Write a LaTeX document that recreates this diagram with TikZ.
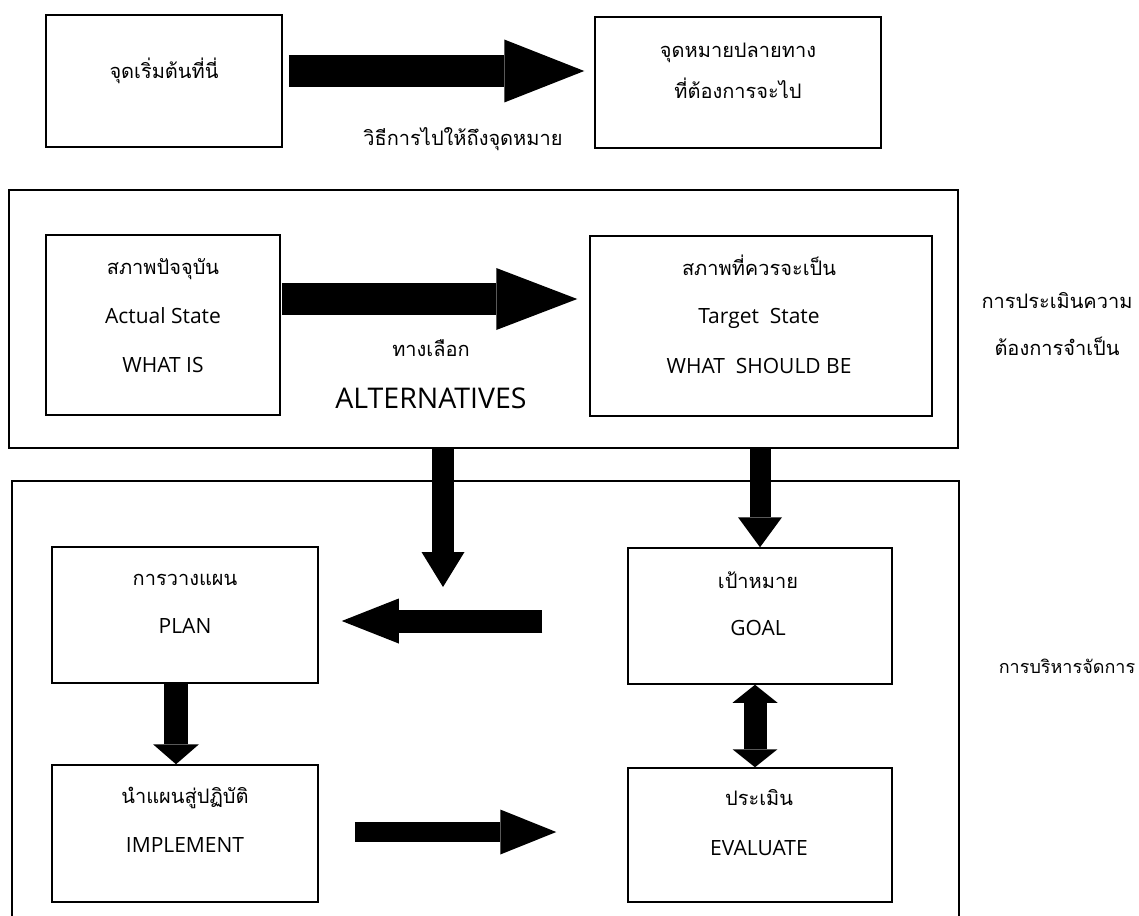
\documentclass[tikz,border=0pt]{standalone}
\usepackage{fontspec}
\setmainfont{Open Sans}
\newfontfamily\thai[Script=Thai]{Loma}
\usetikzlibrary{arrows.meta}
\begin{document}
\begin{tikzpicture}[x=1pt,y=-1pt,
  box/.style={draw, line width=1.5pt, rectangle, inner sep=0pt},
  tt/.style={anchor=base, inner sep=0pt, font=\fontsize{20}{24}\selectfont},
  en/.style={anchor=base, inner sep=0pt, font=\fontsize{21}{25}\selectfont},
  fat/.style n args={3}{line width=#1, -{Triangle[length=#2, width=#3, line width=0pt]}},
  fatboth/.style n args={3}{line width=#1, {Triangle[length=#2, width=#3, line width=0pt]}-{Triangle[length=#2, width=#3, line width=0pt]}}
]
\useasboundingbox (0,0) rectangle (1139,915);

% top row
\node[box, minimum width=236pt, minimum height=132pt] (A) at (164,81) {};
\node[box, minimum width=286pt, minimum height=131pt] (B) at (738,82.5) {};
\node[tt] (At) at (164,79) {\thai จุดเริ่มต้นที่นี่};
\node[tt] (Bt1) at (738,58) {\thai จุดหมายปลายทาง};
\node[tt] (Bt2) at (738,99) {\thai ที่ต้องการจะไป};
\node[tt] (ABt) at (463,145) {\thai วิธีการไปให้ถึงจุดหมาย};
\draw[fat={32pt}{80pt}{63pt}] ([xshift=6pt,yshift=10pt]A.east) -- ([xshift=-10pt,yshift=11.5pt]B.west);

% needs assessment
\node[box, minimum width=949pt, minimum height=258pt] (O1) at (483.5,319) {};
\node[box, minimum width=234pt, minimum height=180pt] (A2) at (163,325) {};
\node[box, minimum width=342pt, minimum height=180pt] (B2) at (761,326) {};
\node[tt] (A2t1) at (163,274) {\thai สภาพปัจจุบัน};
\node[en] (A2t2) at (163,323) {Actual State};
\node[en] (A2t3) at (163,372) {WHAT IS};
\node[tt] (B2t1) at (759,275) {\thai สภาพที่ควรจะเป็น};
\node[en] (B2t2) at (759,323) {Target\ \ State};
\node[en] (B2t3) at (759,373) {WHAT\ \ SHOULD BE};
\node[tt] (Alt1) at (431,356) {\thai ทางเลือก};
\node[anchor=base, inner sep=0pt, font=\fontsize{28.5}{32}\selectfont] (Alt2) at (431,408) {ALTERNATIVES};
\draw[fat={32pt}{81pt}{62pt}] ([xshift=1pt,yshift=26pt]A2.east) -- ([xshift=-12pt,yshift=27pt]B2.west);
\node[tt] (L1a) at (1057,308) {\thai การประเมินความ};
\node[tt] (L1b) at (1057,355) {\thai ต้องการจำเป็น};

% management
\node[box, minimum width=947pt, minimum height=450pt] (O2) at (485.5,706) {};
\node[box, minimum width=266pt, minimum height=136pt] (Plan) at (185,615) {};
\node[box, minimum width=266pt, minimum height=137pt] (Impl) at (185,833.5) {};
\node[box, minimum width=264pt, minimum height=136pt] (Goal) at (760,616) {};
\node[box, minimum width=264pt, minimum height=134pt] (Eval) at (760,835) {};
\node[tt] (Pt1) at (185,585) {\thai การวางแผน};
\node[en] (Pt2) at (185,633) {PLAN};
\node[tt] (It1) at (185,803) {\thai นำแผนสู่ปฏิบัติ};
\node[en] (It2) at (185,852) {IMPLEMENT};
\node[tt] (Gt1) at (758,588) {\thai เป้าหมาย};
\node[en] (Gt2) at (758,635) {GOAL};
\node[tt] (Et1) at (759,805) {\thai ประเมิน};
\node[en] (Et2) at (759,855) {EVALUATE};
\node[anchor=base, inner sep=0pt, font=\fontsize{18}{22}\selectfont] (L2) at (1067,673) {\thai การบริหารจัดการ};

\coordinate (downL) at (443,587);
\draw[fat={22pt}{35pt}{43pt}] ([xshift=-40.5pt]O1.south) -- (downL);
\draw[fat={21pt}{30pt}{44pt}] (O1.south -| Goal.north) -- (Goal.north);
\draw[fat={23pt}{57pt}{45pt}] ([xshift=-85pt,yshift=-5pt]Goal.west) -- ([xshift=23pt,yshift=-6pt]Plan.east);
\draw[fat={24pt}{20pt}{46pt}] ([xshift=-9pt]Plan.south) -- ([xshift=-9pt]Impl.north);
\draw[fat={20pt}{56pt}{45pt}] ([xshift=36pt,yshift=1.5pt]Impl.east) -- ([xshift=-71pt,yshift=3pt]Eval.west);
\draw[fatboth={23pt}{18pt}{45pt}] ([xshift=-5pt]Goal.south) -- ([xshift=-5pt]Eval.north);
\end{tikzpicture}
\end{document}
